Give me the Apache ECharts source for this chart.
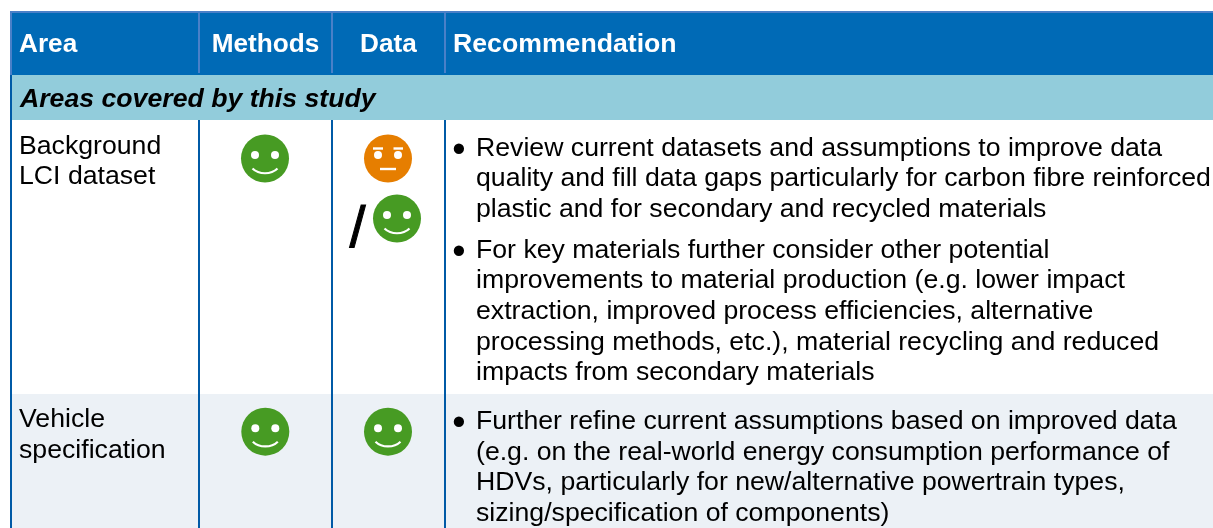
<!DOCTYPE html>
<html><head><meta charset="utf-8">
<style>html,body{margin:0;padding:0;background:#fff}#c{width:1213px;height:528px}</style>
<script src="https://cdn.jsdelivr.net/npm/echarts@6/dist/echarts.min.js"></script></head>
<body><div id="c"></div>
<script>
const headers = ['Area', 'Methods', 'Data', 'Recommendation'];
const bandTitle = 'Areas covered by this study';
const rowLabels = [['Background', 'LCI dataset'], ['Vehicle', 'specification']];
const bulletsRow1 = [
  ['Review current datasets and assumptions to improve data',
   'quality and fill data gaps particularly for carbon fibre reinforced',
   'plastic and for secondary and recycled materials'],
  ['For key materials further consider other potential',
   'improvements to material production (e.g. lower impact',
   'extraction, improved process efficiencies, alternative',
   'processing methods, etc.), material recycling and reduced',
   'impacts from secondary materials']
];
const bulletsRow2 = [
  ['Further refine current assumptions based on improved data',
   '(e.g. on the real-world energy consumption performance of',
   'HDVs, particularly for new/alternative powertrain types,',
   'sizing/specification of components)']
];

const FONT = '"Liberation Sans", Arial, sans-serif';
const FS = 26.67;
const GREEN = '#479b23', ORANGE = '#e67e00', WHITE = '#ffffff';
const els = [];
const rect = (x, y, w, h, fill) => els.push({type:'rect', silent:true, shape:{x, y, width:w, height:h}, style:{fill}});
const txt = (x, y, t, o = {}) => els.push({type:'text', silent:true, x, y, style:{
  text:t, fill:o.fill||'#000', font:`${o.style||'normal'} ${o.weight||'normal'} ${o.size||FS}px ${FONT}`,
  textAlign:o.align||'left', textVerticalAlign:'middle',
  stroke:o.stroke||null, lineWidth:o.stroke?1:0}});
const circ = (cx, cy, r, fill) => els.push({type:'circle', silent:true, shape:{cx, cy, r}, style:{fill}});
const seg = (x1, y1, x2, y2) => els.push({type:'line', silent:true, shape:{x1, y1, x2, y2}, style:{stroke:WHITE, lineWidth:2.4}});

function happy(cx, cy) {
  circ(cx, cy, 24, GREEN);
  circ(cx - 10, cy - 3.4, 4, WHITE); circ(cx + 10, cy - 3.4, 4, WHITE);
  els.push({type:'bezierCurve', silent:true, shape:{x1:cx-12.5, y1:cy+10, cpx1:cx-6, cpy1:cy+16.3, cpx2:cx+6, cpy2:cy+16.3, x2:cx+12.5, y2:cy+10},
    style:{stroke:WHITE, lineWidth:2.2, fill:null}});
}
function neutral(cx, cy) {
  circ(cx, cy, 24, ORANGE);
  circ(cx - 10, cy - 3.4, 4, WHITE); circ(cx + 10, cy - 3.4, 4, WHITE);
  seg(cx - 15, cy - 10, cx - 5, cy - 10); seg(cx + 5.5, cy - 10, cx + 15, cy - 10);
  seg(cx - 8, cy + 10.5, cx + 8, cy + 10.5);
}

// backgrounds
rect(10, 11, 1203, 2, '#4a80c8');
rect(10, 11, 2, 64, '#4a80c8');
rect(12, 13, 1201, 62, '#006ab6');
[198, 331, 444].forEach(x => rect(x, 13, 2, 60, '#4a80c8'));
rect(12, 75, 1201, 45, '#92ccdb');
rect(12, 394, 1201, 134, '#ecf1f6');
[10, 198, 331, 444].forEach(x => rect(x, 120, 2, 408, '#005aa6'));
rect(10, 75, 2, 45, '#005aa6');

// header
const hdrX = [[19,'left'], [265.5,'center'], [388.5,'center'], [453,'left']];
headers.forEach((h, i) => txt(hdrX[i][0], 44.5, h, {fill:WHITE, weight:'bold', align:hdrX[i][1], size:i === 3 ? FS : 26.2}));
txt(20, 99.5, bandTitle, {weight:'bold', style:'italic'});

// first column
[[147, 177], [420, 451]].forEach((ys, r) => ys.forEach((y, i) => txt(19, y, rowLabels[r][i])));

// smileys
happy(265, 158.5); neutral(388, 158.5); happy(397, 218.5);
txt(357.5, 231, '/', {size:58, align:'center', stroke:'#000'});
happy(265.3, 431.7); happy(388, 431.7);

// bullets
function block(list, ys) {
  list.forEach((lines, b) => {
    txt(459, ys[b][0] + 3.5, '•', {align:'center', size:38});
    lines.forEach((l, i) => txt(476, ys[b][i], l));
  });
}
block(bulletsRow1, [[148.5, 178.5, 209.5], [250.5, 280.5, 311.5, 342.5, 372.5]]);
block(bulletsRow2, [[421.5, 452.5, 483, 513.5]]);

const chart = echarts.init(document.getElementById('c'), null, {renderer:'canvas', width:1213, height:528});
chart.setOption({animation:false, graphic:{elements:els}});
</script></body></html>
